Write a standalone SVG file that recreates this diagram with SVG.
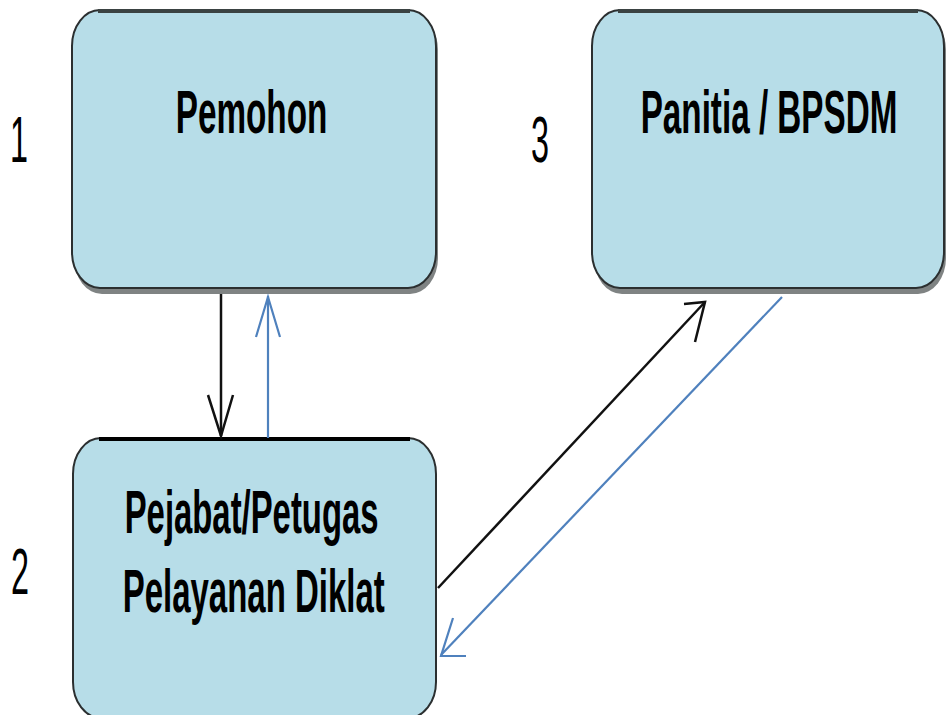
<svg xmlns="http://www.w3.org/2000/svg" width="948" height="715" viewBox="0 0 948 715">
<style>
.shadow{fill:#7f8383;}
.box{fill:#b7dde8;stroke:#2b2f30;stroke-width:2;}
.topedge{stroke:#3a4242;stroke-width:4;fill:none;}
.lbl{font-family:"Liberation Sans",Arial,sans-serif;font-size:62px;font-weight:bold;fill:#000;}
.num{font-family:"Liberation Sans",Arial,sans-serif;font-size:64px;fill:#000;}
.blk{stroke:#111;stroke-width:2.5;fill:none;}
.blu{stroke:#4f81bd;stroke-width:2.2;fill:none;}
</style>
<rect width="948" height="715" fill="#fff"/>
<g id="node-pemohon">
<rect class="shadow" x="74" y="14" width="364" height="280" rx="28" ry="36"/>
<rect class="box" x="72" y="10" width="364" height="278" rx="28" ry="36"/>
<line class="topedge" x1="98" y1="11" x2="410" y2="11"/>
<text class="lbl" transform="translate(175.7,133) scale(0.537,1)">Pemohon</text>
</g>
<g id="node-panitia">
<rect class="shadow" x="594" y="14" width="352" height="280" rx="28" ry="36"/>
<rect class="box" x="592" y="10" width="352" height="278" rx="28" ry="36"/>
<line class="topedge" x1="618" y1="11" x2="918" y2="11"/>
<text class="lbl" transform="translate(640.7,133) scale(0.536,1)">Panitia / BPSDM</text>
</g>
<g id="node-pejabat">
<rect class="box" x="73" y="438" width="363" height="280" rx="28" ry="36"/>
<line x1="99" y1="439" x2="410" y2="439" stroke="#000" stroke-width="4"/>
<text class="lbl" transform="translate(124.7,533) scale(0.53,1)">Pejabat/Petugas</text>
<text class="lbl" transform="translate(122.7,612) scale(0.532,1)">Pelayanan Diklat</text>
</g>
<g id="numbers">
<text class="num" x="10" y="162" textLength="18" lengthAdjust="spacingAndGlyphs">1</text>
<text class="num" x="531" y="162" textLength="18" lengthAdjust="spacingAndGlyphs">3</text>
<text class="num" x="11" y="594" textLength="18" lengthAdjust="spacingAndGlyphs">2</text>
</g>
<g id="connectors">
<line class="blk" x1="221" y1="294" x2="221" y2="436" stroke-width="2"/>
<path class="blk" stroke-width="2" d="M208 395 L221 436 L233 395"/>
<line class="blu" x1="268" y1="438" x2="268" y2="296"/>
<path class="blu" d="M256 337 L268 297 L280 337"/>
<line class="blk" x1="438" y1="588" x2="705" y2="302"/>
<path class="blk" d="M695 342 L705 302 L684 304"/>
<line class="blu" x1="782" y1="297" x2="441" y2="655"/>
<path class="blu" stroke-width="2.8" d="M453 618 L441 656 L466 656"/>
</g>
</svg>
